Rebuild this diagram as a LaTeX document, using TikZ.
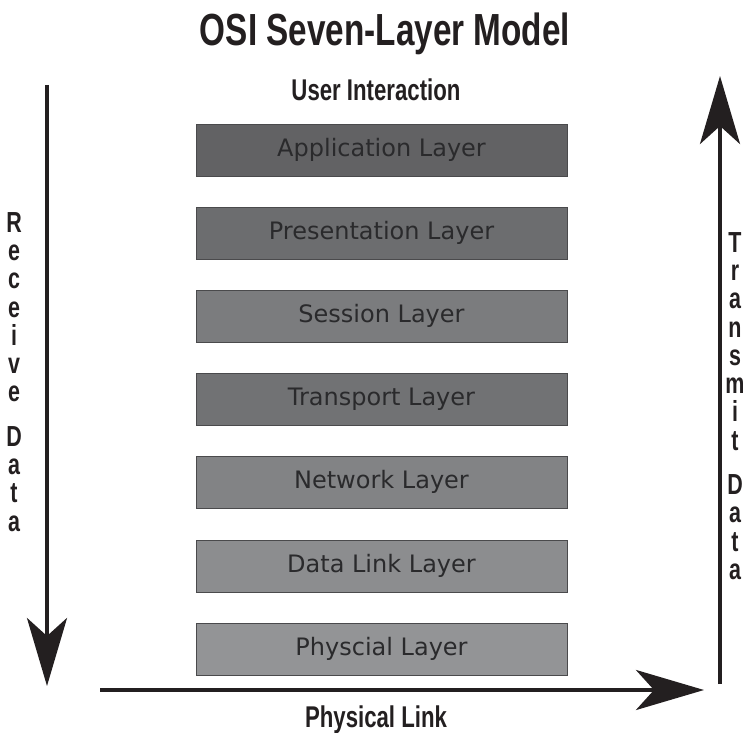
\documentclass[tikz,border=0pt]{standalone}
\usepackage{fontspec}
\usetikzlibrary{arrows.meta}
\newfontfamily\condfont[FakeStretch=0.74]{Liberation Sans}
\newfontfamily\boxfont{DejaVu Sans}
\definecolor{inkc}{HTML}{231F20}
\definecolor{boxtext}{HTML}{2A2A2C}
\definecolor{boxline}{HTML}{4A4A4C}
\definecolor{lA}{HTML}{626264}
\definecolor{lB}{HTML}{6C6D6F}
\definecolor{lC}{HTML}{7B7C7E}
\definecolor{lD}{HTML}{717274}
\definecolor{lE}{HTML}{828385}
\definecolor{lF}{HTML}{8C8D8F}
\definecolor{lG}{HTML}{939496}
\tikzset{
  layer/.style={draw=boxline, line width=0.9pt, minimum width=371pt, minimum height=52pt,
    inner sep=0pt, font=\boxfont\fontsize{24}{28}\selectfont, text=boxtext},
  bigarrow/.style={draw=inkc, line width=4pt,
    -{Stealth[length=68pt, width=40pt, inset=18pt]}},
  heading/.style={font=\condfont\bfseries\fontsize{45}{50}\selectfont, text=inkc, inner sep=0pt},
  sublabel/.style={font=\condfont\bfseries\fontsize{30}{34}\selectfont, text=inkc, inner sep=0pt},
  vlabel/.style={font=\condfont\bfseries\fontsize{29}{28.3}\selectfont, text=inkc, inner sep=0pt, align=center}
}
\begin{document}
\begin{tikzpicture}[x=1pt, y=-1pt]
\useasboundingbox (0,0) rectangle (755,733);
% title and labels
\node[heading, anchor=base] (title) at (385,46) {OSI Seven-Layer Model};
\node[sublabel, anchor=base] (user) at (376,101) {User Interaction};
\node[sublabel, anchor=base] (plink) at (376,727) {Physical Link};
% layers
\node[layer, fill=lA] (app)  at (381.5,150) {Application Layer};
\node[layer, fill=lB] (pres) at (381.5,233) {Presentation Layer};
\node[layer, fill=lC] (sess) at (381.5,316) {Session Layer};
\node[layer, fill=lD] (trans) at (381.5,399) {Transport Layer};
\node[layer, fill=lE] (net)  at (381.5,482) {Network Layer};
\node[layer, fill=lF] (dl)   at (381.5,566) {Data Link Layer};
\node[layer, fill=lG] (phys) at (381.5,649) {Physcial Layer};
% vertical labels
\node[vlabel, anchor=north] (recv) at (14,212) {R\\e\\c\\e\\i\\v\\e\\[16pt]D\\a\\t\\a};
\node[vlabel, anchor=north] (xmit) at (735,232) {T\\r\\a\\n\\s\\m\\i\\t\\[16pt]D\\a\\t\\a};
% arrows
\coordinate (lstart) at (47,85);
\coordinate (lend) at (47,686);
\coordinate (bstart) at (100,690);
\coordinate (bend) at (704,690);
\coordinate (rstart) at (720,684);
\coordinate (rend) at (720,76);
\draw[bigarrow] (lstart) -- (lend);
\draw[bigarrow] (bstart) -- (bend);
\draw[bigarrow] (rstart) -- (rend);
\end{tikzpicture}
\end{document}
